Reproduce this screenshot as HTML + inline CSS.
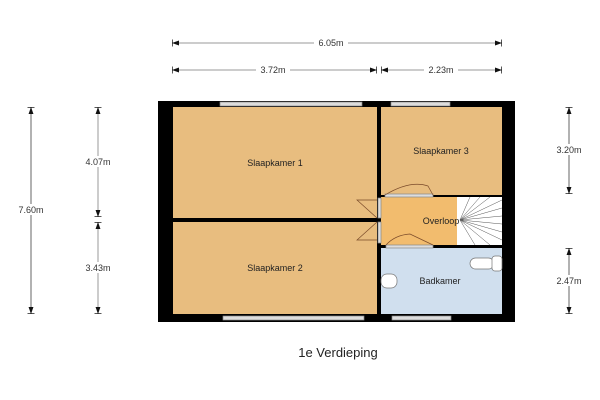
<!DOCTYPE html>
<html><head><meta charset="utf-8"><style>
html,body{margin:0;padding:0;background:#fff;width:600px;height:400px;overflow:hidden}
text{font-family:"Liberation Sans",sans-serif}
</style></head><body>
<svg width="600" height="400" viewBox="0 0 600 400" xmlns="http://www.w3.org/2000/svg">
<defs>
<marker id="a" viewBox="0 0 10 10" refX="10" refY="5" markerWidth="7" markerHeight="7" orient="auto-start-reverse"><path d="M0,1.5 L10,5 L0,8.5 z" fill="#111"/><rect x="9" y="0" width="1.5" height="10" fill="#111"/></marker>
</defs>
<g stroke="#999" stroke-width="1" fill="none" marker-start="url(#a)" marker-end="url(#a)">
<line x1="172" y1="43" x2="502" y2="43"/>
<line x1="172" y1="70" x2="377" y2="70"/>
<line x1="381" y1="70" x2="502" y2="70"/>
<line x1="31" y1="107" x2="31" y2="314" stroke="#666"/>
<line x1="98" y1="107" x2="98" y2="217"/>
<line x1="98" y1="222" x2="98" y2="314"/>
<line x1="569" y1="107" x2="569" y2="194" stroke="#666"/>
<line x1="569" y1="248" x2="569" y2="314" stroke="#666"/>
</g>
<g font-size="9" fill="#333" text-anchor="middle">
<rect x="314" y="37" width="34" height="11" fill="#fff"/><text x="331" y="46">6.05m</text>
<rect x="256" y="64" width="34" height="11" fill="#fff"/><text x="273" y="73">3.72m</text>
<rect x="424" y="64" width="34" height="11" fill="#fff"/><text x="441" y="73">2.23m</text>
<rect x="14" y="204" width="34" height="11" fill="#fff"/><text x="31" y="213">7.60m</text>
<rect x="81" y="156" width="34" height="11" fill="#fff"/><text x="98" y="165">4.07m</text>
<rect x="81" y="262" width="34" height="11" fill="#fff"/><text x="98" y="271">3.43m</text>
<rect x="552" y="144" width="34" height="11" fill="#fff"/><text x="569" y="153">3.20m</text>
<rect x="552" y="275" width="34" height="11" fill="#fff"/><text x="569" y="284">2.47m</text>
</g>
<rect x="158" y="101" width="357" height="221" fill="#000"/>
<rect x="173" y="107" width="204" height="111" fill="#e8bd7f"/>
<rect x="173" y="222" width="204" height="92" fill="#e8bd7f"/>
<rect x="381" y="107" width="121" height="88" fill="#e8bd7f"/>
<rect x="381" y="197" width="76" height="48" fill="#f2bc6e"/>
<rect x="457" y="197" width="45" height="48" fill="#fff"/>
<rect x="381" y="248" width="121" height="66" fill="#d0dfee"/>
<g fill="#ddd" stroke="#888" stroke-width="0.7">
<rect x="220" y="102" width="142" height="4"/>
<rect x="391" y="102" width="59" height="4"/>
<rect x="223" y="316" width="141" height="4"/>
<rect x="392" y="316" width="59" height="4"/>
<rect x="378" y="198" width="3" height="20" />
<rect x="378" y="222" width="3" height="21" />
<rect x="385" y="194" width="48" height="3"/>
<rect x="386" y="245" width="47" height="3"/>
</g>
<g stroke="#7a4a2a" stroke-width="0.7" fill="none">
<path d="M377,200 L357,200 L377,218"/>
<path d="M377,240 L357,240 L377,222"/>
<path d="M385,195 Q410,180 428,186 L433,195"/>
<path d="M386,245 Q395,235 410,234 L433,245"/>
</g>
<g stroke="#555" stroke-width="0.5">
<line x1="460" y1="220" x2="470" y2="197"/><line x1="460" y1="220" x2="480" y2="197"/><line x1="460" y1="220" x2="490" y2="197"/>
<line x1="460" y1="220" x2="502" y2="200"/><line x1="460" y1="220" x2="502" y2="208"/><line x1="460" y1="220" x2="502" y2="216"/>
<line x1="460" y1="220" x2="502" y2="224"/><line x1="460" y1="220" x2="502" y2="232"/><line x1="460" y1="220" x2="502" y2="240"/>
<line x1="460" y1="220" x2="490" y2="245"/><line x1="460" y1="220" x2="475" y2="245"/>
</g>
<g fill="#fff" stroke="#777" stroke-width="0.7">
<rect x="470" y="258" width="24" height="11" rx="5.5"/>
<rect x="492" y="256" width="10" height="15" rx="3"/>
<rect x="381" y="274" width="16" height="14" rx="6"/>
</g>
<g fill="#222" font-size="9" text-anchor="middle">
<text x="275" y="166">Slaapkamer 1</text>
<text x="275" y="271">Slaapkamer 2</text>
<text x="441" y="154">Slaapkamer 3</text>
<text x="441" y="224">Overloop</text>
<text x="440" y="284">Badkamer</text>
</g>
<text x="338" y="357" font-size="13" fill="#222" text-anchor="middle">1e Verdieping</text>
</svg>
</body></html>
